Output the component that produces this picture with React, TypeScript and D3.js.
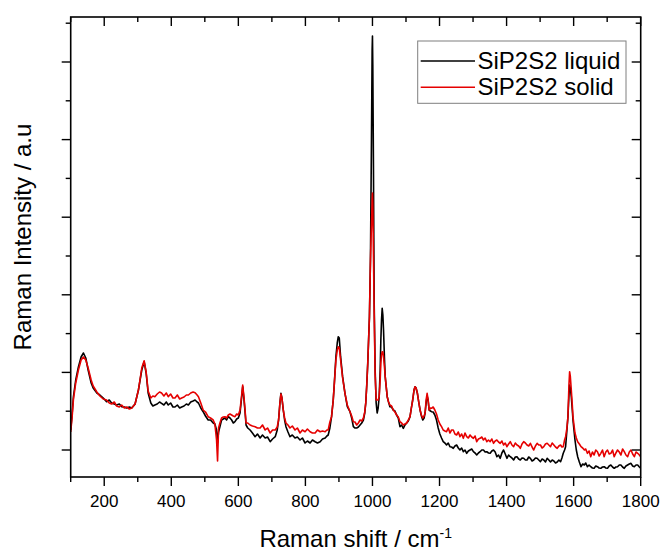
import React from "react";
import * as d3 from "d3";

// Raman shift (cm^-1)
const shift = [100,104,108,115,123,131,138,145,152,161,167,178,187,197,207,215,222,230,237,245,252,260,267,275,282,292,302,312,319,325,331,339,345,351,358,365,371,378,385,391,398,405,411,418,425,431,438,445,451,458,465,471,477,481,488,495,502,510,517,525,530,535,538,541,545,550,555,560,565,570,575,580,585,590,595,600,605,609,613,617,620,623,628,635,642,650,657,665,672,680,687,695,702,710,716,720,724,727,730,734,738,742,748,754,761,769,776,784,791,799,806,814,821,829,836,844,851,859,864,868,873,878,883,886,891,895,898,901,905,911,918,925,933,938,943,948,953,958,963,968,973,977,980,983,986,989,991,994,997,999,1000,1001,1003,1005,1008,1011,1014,1017,1020,1023,1025,1027,1029,1031,1033,1036,1038,1044,1048,1052,1057,1062,1067,1072,1077,1082,1087,1092,1097,1102,1107,1112,1116,1120,1124,1127,1130,1134,1138,1142,1146,1150,1154,1157,1160,1163,1166,1169,1173,1176,1181,1186,1191,1196,1201,1206,1211,1216,1221,1226,1231,1236,1241,1246,1251,1256,1261,1266,1271,1276,1281,1286,1291,1296,1301,1306,1311,1316,1321,1326,1331,1336,1341,1346,1351,1356,1361,1366,1371,1376,1381,1386,1391,1396,1401,1406,1411,1416,1421,1426,1431,1436,1441,1446,1451,1456,1461,1466,1471,1476,1481,1486,1491,1496,1501,1506,1511,1516,1521,1526,1531,1536,1541,1546,1551,1556,1561,1565,1569,1573,1576,1580,1583,1586,1588,1590,1593,1596,1598,1601,1604,1608,1612,1617,1622,1627,1632,1636,1641,1646,1651,1656,1661,1666,1671,1676,1681,1686,1691,1696,1701,1706,1711,1716,1721,1726,1731,1736,1741,1746,1751,1756,1761,1766,1771,1776,1781,1786,1791,1796,1800];

// SiP2S2 liquid intensity (a.u.)
const liquid = [47,62,80,97,110,120,124,119,107,94,89,84,82,79,75.3,77,74,73,72,73,70.3,70,69,70,69,73,87,107,115.3,104,84,74,71,72,73,75,73.7,72,75,72,74,70,70,72,69,70,71,73,72,75,76,77,75,74,69,65.3,61,57,57,54,53,47,34,45,50.3,57,58,59,57,60.3,59,57,54,55.3,58,59,64,77,90.3,77,65,52,49,47,44,40.3,43,39,42,39,40,35.3,38,40.3,47,57,74,83.7,79,67,57,50.3,45,40.3,42,39,40,37,39,34,36,34,37,35.3,34,35.3,38,39,41,42,49,60.3,77,92,120.3,134,140.3,139,120.3,100.3,83.7,70.3,65.3,59,50.3,49,49,50,52,54,57,64,74,92,114,142,160.3,217,337,427,441,412,307,177,107,74,64,69,80.3,107,137,157,168.7,162,147,117,100.3,80.3,75,70.3,70,67,66,62,59,50.3,52,48.7,52,54,56,60.3,69,77,87,90.3,89,83.7,75,67,61,57,59,64,74,81,77,67,66,65.3,65,62,57,49,43,39,35.3,34,32,34,30.3,30,28.7,31,32,29,27,29,25.3,27,23.7,26,27,28,25.3,24,22,24,25.3,27,27,25,25.3,24,23.7,26,27,25,20.3,22,18.7,24,27,23,18.7,22,20.3,19,17,20,20.3,18,17,19,18.7,17,17,20,18.7,16,17,19,18.7,17,15.3,18,17,15,18.7,17,15,17,16,14,15,17,15.3,19,23.7,27,30.3,47,60.3,82,92,89,80.3,67,57,47,37,27,20.3,15,10.3,13,12,14,10.3,12,10.3,9,8.7,11,10.3,9,8.7,10,10.3,9,8.7,11,12,10,8.7,10,10.3,12,12,10,8.7,11,12,13,13.7,11,10.3,12,12,10,8.7];

// SiP2S2 solid intensity (a.u.)
const solid = [45,59,77,94,107,117,120,117,109,97,91,85,81,78,77,74,73,75,71,70,72,69,70,68,69,73,87,109,116.3,105,86,79,81,80.3,83,85,84,81,84,80.3,83,79,79,82,78,79,80,82,82,84,85,84.3,82,80.3,74,67,65,60.3,59,57,53,37,16,49,54,59,60,60.3,59,62,63,62,61,60.3,63,62,67,79,92,79,67,54,54,52,51,50.3,49,49,52,47,49,44,47,47,50,57,74,83,79,67,59,54,52,49,51,47,49,44,47,45.3,48,45.3,44,44,47,45.3,46,45.3,47,47,55,60.3,77,92,117,127,130.3,129,117,99,83.7,72,65.3,61,55.3,55,52,54,57,56,59,65,74,92,114,142,160.3,217,252,277,284,272,222,167,102,77,77,77,80.3,97,114,122,125.3,125,120.3,109,100.3,80.3,75,72,71,67,65,62,60,55.3,54,52,53,54,57,60.3,69,77,87,90.3,89,83.7,75,67,62,59,61,64,77,83.7,77,67,69,68.7,70,67,63,57,53,50.3,47,46,45.3,49,44,47,47,43,42,45,40.3,43,38.7,44,40.3,39,42,40,38.7,41,35.3,38,38.7,40,37,39,35.3,37,35.3,38,33.7,36,37,35,33.7,36,32,34,30.3,33,35.3,32,30.3,34,32,31,28.7,33,35.3,34,32,31,33.7,30,27,31,33.7,32,32,29,30.3,33,33.7,32,30.3,34,32,30,28.7,31,32,30,30.3,37,40.3,49,60.3,92,105.3,101,87,72,60.3,52,44,39,35.3,33,30.3,29,27,28,23.7,26,20.3,25,22,27,25.3,21,23.7,27,20.3,25,27,23,23.7,27,20.3,24,27,25,22,28,25.3,22,20.3,25,27,23,20.3,25,23.7,22,20.3];

const seriesNames = ["SiP2S2 liquid", "SiP2S2 solid"];
const seriesColors = ["#000000", "#e60000"];

const xMajorTicks = [200, 400, 600, 800, 1000, 1200, 1400, 1600, 1800];
const xMinorTicks = [100, 300, 500, 700, 900, 1100, 1300, 1500, 1700];
const yMajorTicks = [27, 104.6, 182.2, 259.8, 337.4, 415];
const yMinorTicks = [65.8, 143.4, 221, 298.6, 376.2, 453.8];

const W = 663, H = 551;
const L = 70.7, R = 640.7, T = 17, B = 477;
const FONT = "'Liberation Sans', Arial, sans-serif";

export default function App() {
  const x = d3.scaleLinear().domain([100, 1800]).range([L, R]);
  const y = d3.scaleLinear().domain([0, 460]).range([B, T]);
  const mk = (vals: number[]) =>
    d3.line<number>().x((_, i) => x(shift[i])).y((v) => y(v))(vals) || "";
  const series = [liquid, solid];
  const maj = 9, min = 5;

  return (
    <div style={{ position: "fixed", left: 0, top: 0, background: "#fff" }}>
      <svg width={W} height={H} style={{ display: "block" }} fontFamily={FONT}>
        <rect x={0} y={0} width={W} height={H} fill="#fff" />
        <defs>
          <clipPath id="plot">
            <rect x={L} y={T} width={R - L} height={B - T} />
          </clipPath>
        </defs>
        <g clipPath="url(#plot)">
          {series.map((s, i) => (
            <path key={i} d={mk(s)} fill="none" stroke={seriesColors[i]} strokeWidth={1.6} strokeLinejoin="round" />
          ))}
        </g>
        {/* frame */}
        <rect x={L} y={T} width={R - L} height={B - T} fill="none" stroke="#000" strokeWidth={1.6} />
        {/* bottom + top ticks */}
        {xMajorTicks.map((t) => (
          <g key={"xM" + t}>
            <line x1={x(t)} x2={x(t)} y1={B} y2={B + maj} stroke="#000" strokeWidth={1.4} />
            <line x1={x(t)} x2={x(t)} y1={T} y2={T + maj} stroke="#000" strokeWidth={1.4} />
            <text x={x(t)} y={507} fontSize={17} textAnchor="middle" fill="#000">{t}</text>
          </g>
        ))}
        {xMinorTicks.map((t) => (
          <g key={"xm" + t}>
            <line x1={x(t)} x2={x(t)} y1={B} y2={B + min} stroke="#000" strokeWidth={1.4} />
            <line x1={x(t)} x2={x(t)} y1={T} y2={T + min} stroke="#000" strokeWidth={1.4} />
          </g>
        ))}
        {/* left + right ticks */}
        {yMajorTicks.map((t) => (
          <g key={"yM" + t}>
            <line x1={L - maj} x2={L} y1={y(t)} y2={y(t)} stroke="#000" strokeWidth={1.4} />
            <line x1={R - maj} x2={R} y1={y(t)} y2={y(t)} stroke="#000" strokeWidth={1.4} />
          </g>
        ))}
        {yMinorTicks.map((t) => (
          <g key={"ym" + t}>
            <line x1={L - min} x2={L} y1={y(t)} y2={y(t)} stroke="#000" strokeWidth={1.4} />
            <line x1={R - min} x2={R} y1={y(t)} y2={y(t)} stroke="#000" strokeWidth={1.4} />
          </g>
        ))}
        {/* axis titles */}
        <text x={(L + R) / 2} y={547} fontSize={24} textAnchor="middle" fill="#000">
          Raman shift / cm<tspan dy={-9} fontSize={14}>-1</tspan>
        </text>
        <text transform={`translate(31,237) rotate(-90)`} fontSize={24} textAnchor="middle" fill="#000">
          Raman Intensity / a.u
        </text>
        {/* legend */}
        <rect x={417.7} y={41} width={208.3} height={62.3} fill="#fff" stroke="#7f7f7f" strokeWidth={1} />
        {seriesNames.map((n, i) => {
          const ly = 61 + i * 26.3;
          return (
            <g key={n}>
              <line x1={420.7} x2={475} y1={ly} y2={ly} stroke={seriesColors[i]} strokeWidth={1.4} />
              <text x={477.5} y={ly + 8} fontSize={24} fill="#000">{n}</text>
            </g>
          );
        })}
      </svg>
    </div>
  );
}
